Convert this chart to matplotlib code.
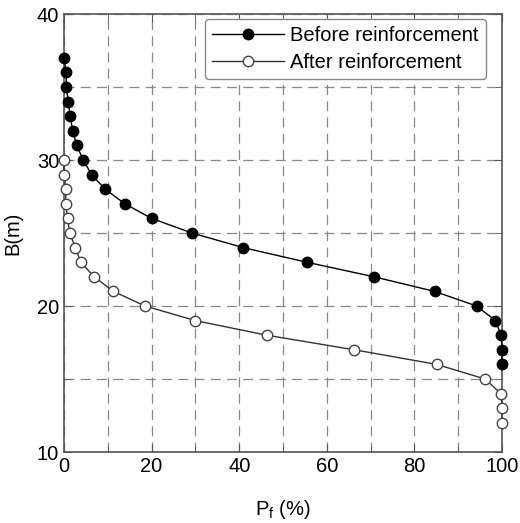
import matplotlib
matplotlib.use("Agg")
import matplotlib.pyplot as plt
from matplotlib.ticker import MultipleLocator

plt.rcParams['font.family'] = ['Liberation Sans', 'DejaVu Sans']

# before reinforcement
b_before = [37, 36, 35, 34, 33, 32, 31, 30, 29, 28, 27, 26, 25, 24, 23, 22, 21, 20, 19, 18, 17, 16]
pf_before = [0.0, 0.5, 0.5, 1.0, 1.4, 2.0, 2.9, 4.4, 6.3, 9.4, 13.9, 20.0, 29.2, 40.9, 55.4, 70.8, 84.6, 94.2, 98.5, 99.8, 100, 100]

# after reinforcement
b_after = [30, 29, 28, 27, 26, 25, 24, 23, 22, 21, 20, 19, 18, 17, 16, 15, 14, 13, 12]
pf_after = [0.0, 0.0, 0.4, 0.4, 0.8, 1.3, 2.6, 3.8, 6.9, 11.3, 18.5, 30.0, 46.3, 66.3, 85.1, 96.1, 99.8, 100, 100]

fig = plt.figure(figsize=(5.2, 5.23), dpi=100)
ax = fig.add_axes([64/520, 1 - 452/523, 438/520, 438/523])

ax.plot(pf_before, b_before, '-o', color='black', lw=1, ms=7.5,
        mfc='black', mec='black', label='Before reinforcement', clip_on=False, zorder=3)
ax.plot(pf_after, b_after, '-o', color='#333333', lw=1, ms=7.5,
        mfc='white', mec='#444444', mew=1, label='After reinforcement', clip_on=False, zorder=3)

ax.set_xlim(0, 100)
ax.set_ylim(10, 40)
ax.xaxis.set_major_locator(MultipleLocator(20))
ax.xaxis.set_minor_locator(MultipleLocator(10))
ax.yaxis.set_major_locator(MultipleLocator(10))
ax.yaxis.set_minor_locator(MultipleLocator(5))

ax.grid(True, which='both', ls=(0, (8, 5)), color='#888888', lw=0.9)
ax.set_axisbelow(True)
ax.tick_params(which='both', direction='in', top=True, right=True, colors='#555555',
               labelcolor='black', labelsize=14.5)
ax.tick_params(which='major', length=6)
ax.tick_params(which='minor', length=4)
for s in ax.spines.values():
    s.set_color('#555555')
    s.set_linewidth(1.2)

ax.set_xlabel('P$_\\mathregular{f}$ (%)', fontsize=14.5, labelpad=16)
ax.set_ylabel('B(m)', fontsize=14.5, labelpad=10)

leg = ax.legend(loc='upper right', fontsize=14.5, handlelength=3.6, handletextpad=0.3,
                borderpad=0.35, labelspacing=0.4, fancybox=True, framealpha=1,
                edgecolor='#888888', bbox_to_anchor=(0.963, 0.989), borderaxespad=0)
leg.get_frame().set_linewidth(1.0)

fig.savefig('out.png', dpi=100)
